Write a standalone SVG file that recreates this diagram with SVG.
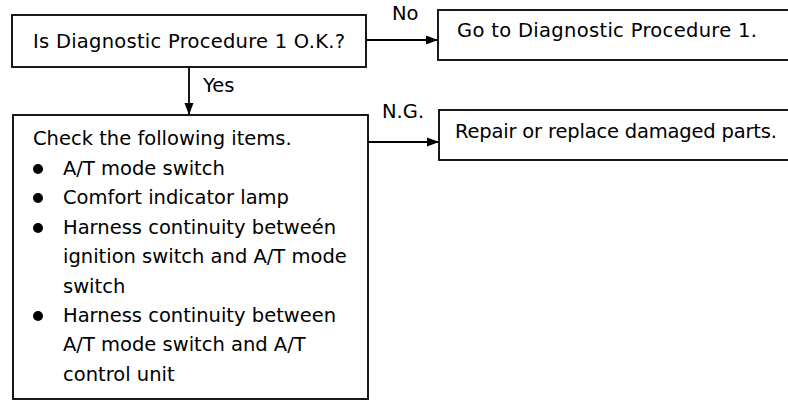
<svg xmlns="http://www.w3.org/2000/svg" width="788" height="404" viewBox="0 0 788 404">
<style>
.box{fill:#fff;stroke:#000;stroke-width:1.8}
.t{font-family:"DejaVu Sans","Liberation Sans",sans-serif;font-size:19.5px;fill:#000}
.line{stroke:#000;stroke-width:1.8;fill:none}
</style>
<defs>
<marker id="arr" viewBox="0 0 12 10" refX="12" refY="5" markerWidth="12" markerHeight="10" markerUnits="userSpaceOnUse" orient="auto">
<path d="M0,0.5 L12,5 L0,9.5 Z" fill="#000"/>
</marker>
</defs>
<rect width="788" height="404" fill="#fff"/>
<g id="connectors">
<line class="line" x1="189" y1="67" x2="189" y2="115" marker-end="url(#arr)"/>
<text class="t" x="203" y="92">Yes</text>
<line class="line" x1="366" y1="40" x2="438" y2="40" marker-end="url(#arr)"/>
<text class="t" x="392" y="20">No</text>
<line class="line" x1="368" y1="142" x2="439" y2="142" marker-end="url(#arr)"/>
<text class="t" x="382" y="118">N.G.</text>
</g>
<g id="q1">
<rect class="box" x="12" y="15" width="354" height="52"/>
<text class="t" x="33" y="48" textLength="312">Is Diagnostic Procedure 1 O.K.?</text>
</g>
<g id="goto">
<rect class="box" x="438" y="10" width="360" height="50"/>
<text class="t" x="457" y="37" textLength="300">Go to Diagnostic Procedure 1.</text>
</g>
<g id="check">
<rect class="box" x="13" y="115" width="355" height="284"/>
<text class="t" x="33" y="145">Check the following items.</text>
<circle cx="38" cy="169" r="5"/>
<text class="t" x="63" y="175">A/T mode switch</text>
<circle cx="38" cy="198" r="5"/>
<text class="t" x="63" y="204">Comfort indicator lamp</text>
<circle cx="38" cy="228" r="5"/>
<text class="t" x="63" y="234">Harness continuity betweén</text>
<text class="t" x="63" y="263">ignition switch and A/T mode</text>
<text class="t" x="63" y="293">switch</text>
<circle cx="38" cy="316" r="5"/>
<text class="t" x="63" y="322">Harness continuity between</text>
<text class="t" x="63" y="351">A/T mode switch and A/T</text>
<text class="t" x="63" y="381">control unit</text>
</g>
<g id="repair">
<rect class="box" x="439" y="110" width="360" height="50"/>
<text class="t" x="455" y="138" textLength="322">Repair or replace damaged parts.</text>
</g>
</svg>
